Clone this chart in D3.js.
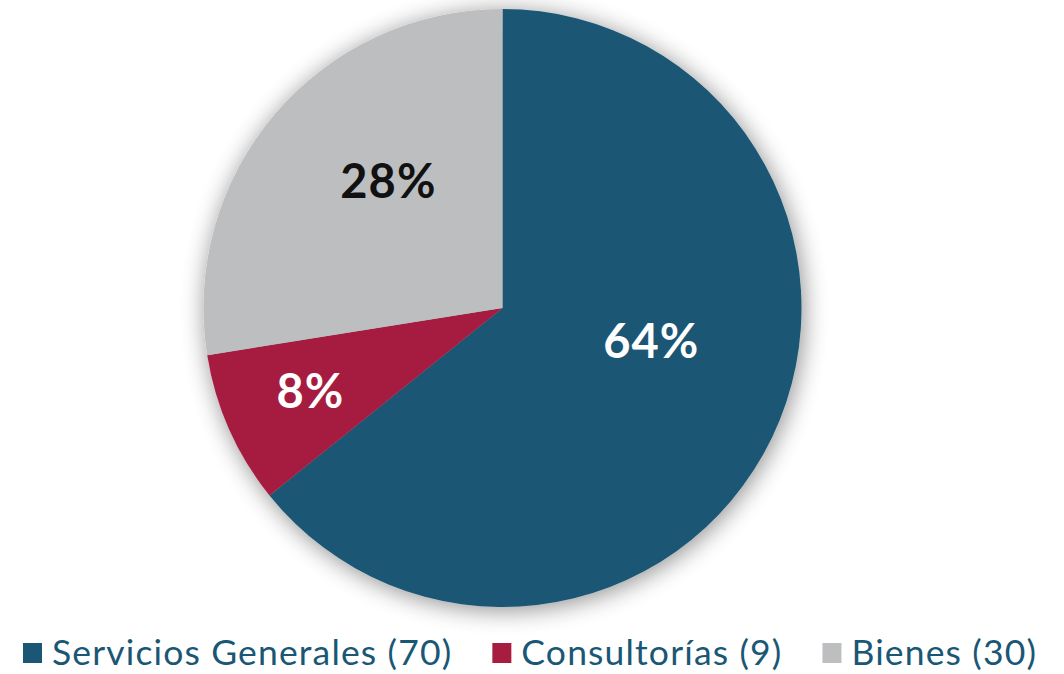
<!DOCTYPE html>
<html>
<head>
<meta charset="utf-8">
<script src="https://cdn.jsdelivr.net/npm/d3@7"></script>
<style>
  html, body { margin: 0; padding: 0; background: #ffffff; }
  svg { display: block; }
</style>
</head>
<body>
<svg id="chart" width="1064" height="674"></svg>
<script>
// Contract categories and counts
const categories = ["Servicios Generales", "Consultorías", "Bienes"];
const counts = [70, 9, 30];
const sliceColors = ["#1a5775", "#a61d40", "#bdbec0"];
const labelColors = ["#ffffff", "#ffffff", "#111111"];

const width = 1064, height = 674;
const cx = 502.5, cy = 308, radius = 299;

const svg = d3.select("#chart");

// soft shadow behind the pie
const defs = svg.append("defs");
const shadow = defs.append("filter").attr("id", "pieShadow")
  .attr("x", "-20%").attr("y", "-20%").attr("width", "140%").attr("height", "140%");
shadow.append("feGaussianBlur").attr("in", "SourceAlpha").attr("stdDeviation", 12).attr("result", "blur");
shadow.append("feOffset").attr("in", "blur").attr("dx", 2).attr("dy", 3).attr("result", "off");
shadow.append("feComponentTransfer").attr("in", "off").attr("result", "soft")
  .append("feFuncA").attr("type", "linear").attr("slope", 0.45);
const merge = shadow.append("feMerge");
merge.append("feMergeNode").attr("in", "soft");
merge.append("feMergeNode").attr("in", "SourceGraphic");

const total = d3.sum(counts);
const pie = d3.pie().sort(null).value(d => d)(counts);
const arc = d3.arc().innerRadius(0).outerRadius(radius);

const g = svg.append("g").attr("transform", `translate(${cx},${cy})`);

g.append("g").attr("filter", "url(#pieShadow)")
  .selectAll("path").data(pie).join("path")
  .attr("d", arc)
  .attr("fill", (d, i) => sliceColors[i]);

// best-fit label placement: angle shift (degrees) from slice middle, radius fraction
const labelFit = [{ da: -13, rf: 0.51 }, { da: 0.5, rf: 0.70 }, { da: 7.5, rf: 0.57 }];

g.selectAll("text.pct").data(pie).join("text")
  .attr("class", "pct")
  .each(function (d, i) {
    const mid = (d.startAngle + d.endAngle) / 2 + labelFit[i].da * Math.PI / 180;
    const [x, y] = d3.pointRadial(mid, radius * labelFit[i].rf);
    d3.select(this).attr("x", x).attr("y", y);
  })
  .attr("dy", "0.36em")
  .attr("text-anchor", "middle")
  .attr("font-family", "Lato, 'Open Sans', sans-serif")
  .attr("font-weight", 700)
  .attr("font-size", 47)
  .attr("letter-spacing", 1)
  .attr("fill", (d, i) => labelColors[i])
  .text(d => Math.round(d.value / total * 100) + "%");

// legend row
const legend = svg.append("g").attr("transform", "translate(23, 653)");
const items = categories.map((c, i) => `${c} (${counts[i]})`);
let xPos = 0;
items.forEach((t, i) => {
  const it = legend.append("g").attr("transform", `translate(${xPos},0)`);
  it.append("rect").attr("x", 0).attr("y", -10).attr("width", 19).attr("height", 20)
    .attr("fill", sliceColors[i]);
  const txt = it.append("text").attr("x", 29).attr("y", 0).attr("dy", "0.35em")
    .attr("font-family", "Lato, 'Open Sans', sans-serif")
    .attr("font-size", 35.5)
    .attr("letter-spacing", 1.15)
    .attr("fill", "#1a5775")
    .text(t);
  xPos += 29 + txt.node().getComputedTextLength() + 40;
});
</script>
</body>
</html>
